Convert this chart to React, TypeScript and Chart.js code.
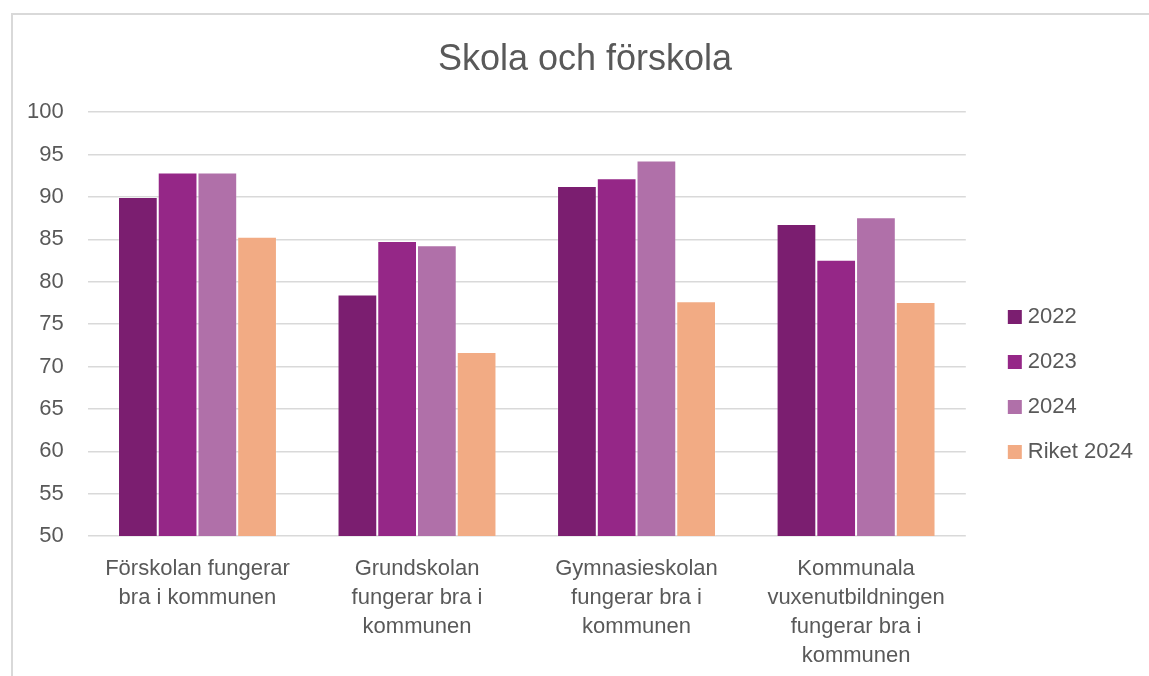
import React, { useEffect, useRef } from "react";
import { Chart, registerables } from "chart.js";

Chart.register(...registerables);

const categories: string[][] = [
  ["Förskolan fungerar", "bra i kommunen"],
  ["Grundskolan", "fungerar bra i", "kommunen"],
  ["Gymnasieskolan", "fungerar bra i", "kommunen"],
  ["Kommunala", "vuxenutbildningen", "fungerar bra i", "kommunen"],
];

const seriesNames = ["2022", "2023", "2024", "Riket 2024"];
const values2022 = [90.0, 78.5, 91.3, 86.8];
const values2023 = [92.9, 84.8, 92.2, 82.6];
const values2024 = [92.9, 84.3, 94.3, 87.6];
const valuesRiket = [85.3, 71.7, 77.7, 77.6];
const seriesColors = ["#7B1E70", "#952787", "#B070A9", "#F2AB84"];

const yMin = 50;
const yMax = 100;
const yStep = 5;

const FONT = "'Liberation Sans', Arial, sans-serif";
const TEXT = "#595959";

export default function App() {
  const ref = useRef<HTMLCanvasElement | null>(null);

  useEffect(() => {
    if (!ref.current) return;
    const all = [values2022, values2023, values2024, valuesRiket];
    const chart = new Chart(ref.current, {
      type: "bar",
      data: {
        labels: categories,
        datasets: all.map((d, i) => ({
          label: seriesNames[i],
          data: d,
          backgroundColor: seriesColors[i],
          borderColor: "rgba(255,255,255,0.2)",
          borderWidth: 1,
          yAxisID: "y",
          xAxisID: "x",
        })),
      },
      options: {
        responsive: false,
        animation: false,
        layout: { padding: { left: 27, right: 6, top: 0, bottom: 6 } },
        datasets: {
          bar: { categoryPercentage: 0.724, barPercentage: 1.0 },
        },
        scales: {
          x: {
            grid: { display: false, drawTicks: false },
            border: { display: false },
            ticks: {
              color: TEXT,
              font: { family: FONT, size: 22, lineHeight: 1.318 },
              padding: 18,
              maxRotation: 0,
              autoSkip: false,
            },
            afterFit: (scale: any) => {
              scale.height -= 18;
            },
          },
          y: {
            min: yMin,
            max: yMax,
            grid: { color: "#d9d9d9", lineWidth: 1.5, drawTicks: false },
            border: { display: false },
            ticks: {
              stepSize: yStep,
              color: TEXT,
              font: { family: FONT, size: 22 },
              padding: 24,
            },
            afterFit: (scale: any) => {
              scale.width -= 24;
            },
          },
          y1: {
            type: "linear",
            position: "right",
            display: true,
            grid: { display: false, drawTicks: false },
            border: { display: false },
            ticks: { display: false },
            afterFit: (scale: any) => {
              scale.width = 24;
            },
          },
        },
        plugins: {
          tooltip: { enabled: false },
          title: {
            display: true,
            text: "Skola och förskola",
            color: TEXT,
            font: { family: FONT, size: 36, weight: "normal", lineHeight: 1.2 },
            padding: { top: 38, bottom: 31 },
          },
          legend: {
            display: true,
            position: "right",
            align: "start",
            fullSize: false,
            title: {
              display: true,
              text: " ",
              font: { size: 10, lineHeight: 1 },
              padding: { top: 160.7, bottom: 0 },
            },
            labels: {
              color: TEXT,
              font: { family: FONT, size: 22 },
              boxWidth: 4,
              boxHeight: 4,
              padding: 23,
              generateLabels: (c: any) =>
                c.data.datasets.map((ds: any, i: number) => ({
                  text: ds.label,
                  fillStyle: seriesColors[i],
                  strokeStyle: seriesColors[i],
                  lineWidth: 10,
                  fontColor: TEXT,
                  hidden: false,
                  datasetIndex: i,
                })),
            },
          },
        },
      },
    });
    return () => chart.destroy();
  }, []);

  return (
    <div
      style={{
        position: "fixed",
        left: 0,
        top: 0,
        width: 1149,
        height: 676,
        overflow: "hidden",
        background: "#ffffff",
      }}
    >
      <div
        style={{
          position: "absolute",
          left: 11,
          top: 13,
          width: 1200,
          height: 700,
          borderLeft: "2px solid #d9d9d9",
          borderTop: "2px solid #d9d9d9",
          boxSizing: "border-box",
        }}
      />
      <canvas
        ref={ref}
        width={1149}
        height={676}
        style={{ position: "absolute", left: 0, top: 0, width: 1149, height: 676 }}
      />
    </div>
  );
}
